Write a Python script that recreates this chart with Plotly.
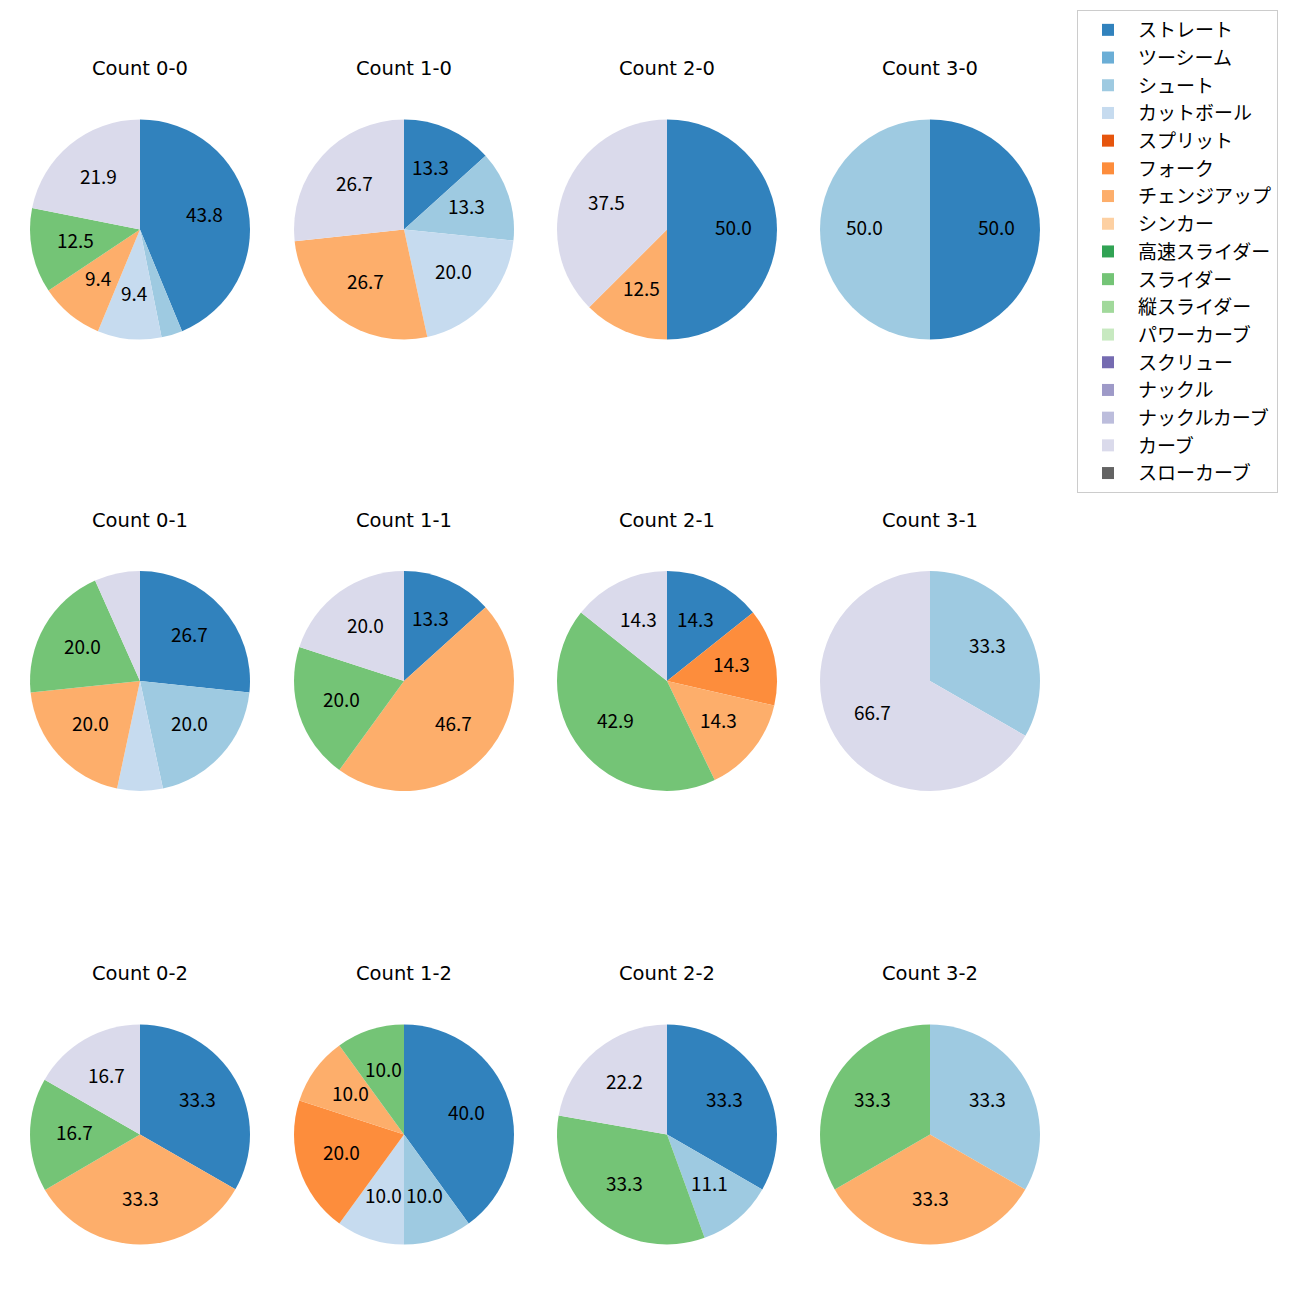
import math
import plotly.graph_objects as go

# ---- data -------------------------------------------------------------
pitch_types = ["ストレート", "ツーシーム", "シュート", "カットボール", "スプリット", "フォーク",
               "チェンジアップ", "シンカー", "高速スライダー", "スライダー", "縦スライダー",
               "パワーカーブ", "スクリュー", "ナックル", "ナックルカーブ", "カーブ", "スローカーブ"]

pitch_colors = ["#3182bd", "#6baed6", "#9ecae1", "#c6dbef", "#e6550d", "#fd8d3c",
                "#fdae6b", "#fdd0a2", "#31a354", "#74c476", "#a1d99b", "#c7e9c0",
                "#756bb1", "#9e9ac8", "#bcbddc", "#dadaeb", "#636363"]

count_titles = ["Count 0-0", "Count 1-0", "Count 2-0", "Count 3-0",
                "Count 0-1", "Count 1-1", "Count 2-1", "Count 3-1",
                "Count 0-2", "Count 1-2", "Count 2-2", "Count 3-2"]

#              Str   2S   Sht   Cut  Spl  Frk   Chg  Snk HSl  Sld  VSl PwC Scr Knu KnC  Crv  SlC
count_0_0 = [43.8, 0, 3.1, 9.4, 0, 0, 9.4, 0, 0, 12.5, 0, 0, 0, 0, 0, 21.9, 0]
count_1_0 = [13.3, 0, 13.3, 20.0, 0, 0, 26.7, 0, 0, 0, 0, 0, 0, 0, 0, 26.7, 0]
count_2_0 = [50.0, 0, 0, 0, 0, 0, 12.5, 0, 0, 0, 0, 0, 0, 0, 0, 37.5, 0]
count_3_0 = [50.0, 0, 50.0, 0, 0, 0, 0, 0, 0, 0, 0, 0, 0, 0, 0, 0, 0]
count_0_1 = [26.7, 0, 20.0, 6.7, 0, 0, 20.0, 0, 0, 20.0, 0, 0, 0, 0, 0, 6.7, 0]
count_1_1 = [13.3, 0, 0, 0, 0, 0, 46.7, 0, 0, 20.0, 0, 0, 0, 0, 0, 20.0, 0]
count_2_1 = [14.3, 0, 0, 0, 0, 14.3, 14.3, 0, 0, 42.9, 0, 0, 0, 0, 0, 14.3, 0]
count_3_1 = [0, 0, 33.3, 0, 0, 0, 0, 0, 0, 0, 0, 0, 0, 0, 0, 66.7, 0]
count_0_2 = [33.3, 0, 0, 0, 0, 0, 33.3, 0, 0, 16.7, 0, 0, 0, 0, 0, 16.7, 0]
count_1_2 = [40.0, 0, 10.0, 10.0, 0, 20.0, 10.0, 0, 0, 10.0, 0, 0, 0, 0, 0, 0, 0]
count_2_2 = [33.3, 0, 11.1, 0, 0, 0, 0, 0, 0, 33.3, 0, 0, 0, 0, 0, 22.2, 0]
count_3_2 = [0, 0, 33.3, 0, 0, 0, 33.3, 0, 0, 33.3, 0, 0, 0, 0, 0, 0, 0]

all_counts = [count_0_0, count_1_0, count_2_0, count_3_0,
              count_0_1, count_1_1, count_2_1, count_3_1,
              count_0_2, count_1_2, count_2_2, count_3_2]

# ---- layout constants ---------------------------------------------------
W = H = 1300
FONT = "Noto Sans CJK JP"
TITLE_FONT = "DejaVu Sans"
col_centers = [140, 404, 667, 930]
row_centers = [229.5, 681, 1134.5]
R = 110
LABEL_MIN = 8.0   # labels smaller than this are not printed

fig = go.Figure()
annotations = []

for i, (title, vals) in enumerate(zip(count_titles, all_counts)):
    cx = col_centers[i % 4]
    cy = row_centers[i // 4]
    dom_x = [(cx - R) / W, (cx + R) / W]
    dom_y = [1 - (cy + R) / H, 1 - (cy - R) / H]
    fig.add_trace(go.Pie(
        labels=pitch_types,
        values=vals,
        marker=dict(colors=pitch_colors, line=dict(width=0)),
        sort=False,
        direction="clockwise",
        rotation=0,
        textinfo="none",
        domain=dict(x=dom_x, y=dom_y),
        showlegend=True,
        hoverinfo="label+percent",
    ))
    # title
    annotations.append(dict(
        text=title, x=cx / W, y=1 - (cy - 161) / H, xref="paper", yref="paper",
        xanchor="center", yanchor="middle", showarrow=False,
        font=dict(family=TITLE_FONT, size=19.5, color="black"),
    ))
    # percentage labels at 0.6 radius (matplotlib style)
    total = sum(vals)
    cum = 0.0
    for v in vals:
        if v <= 0:
            continue
        start = cum
        cum += v
        pct = v / total * 100
        if pct < LABEL_MIN:
            continue
        mid = 90 - 360 * (start + v / 2) / total
        th = math.radians(mid)
        lx = cx + 0.6 * R * math.cos(th)
        ly = cy - 0.6 * R * math.sin(th) - 3
        annotations.append(dict(
            text=f"{pct:.1f}", x=lx / W, y=1 - ly / H, xref="paper", yref="paper",
            xanchor="center", yanchor="middle", showarrow=False,
            font=dict(family=FONT, size=19, color="black"),
        ))

fig.update_layout(
    width=W, height=H,
    margin=dict(l=0, r=0, t=0, b=0),
    paper_bgcolor="white", plot_bgcolor="white",
    font=dict(family=FONT, color="black"),
    annotations=annotations,
    legend=dict(
        x=1077 / W, y=1 - 10 / H, xanchor="left", yanchor="top",
        bordercolor="#cccccc", borderwidth=1, bgcolor="white",
        font=dict(family=FONT, size=19, color="black"),
        traceorder="normal", itemwidth=50,
    ),
)

fig.write_html("out.html", config={"displayModeBar": False},
               post_script="document.body.style.margin='0px';")
